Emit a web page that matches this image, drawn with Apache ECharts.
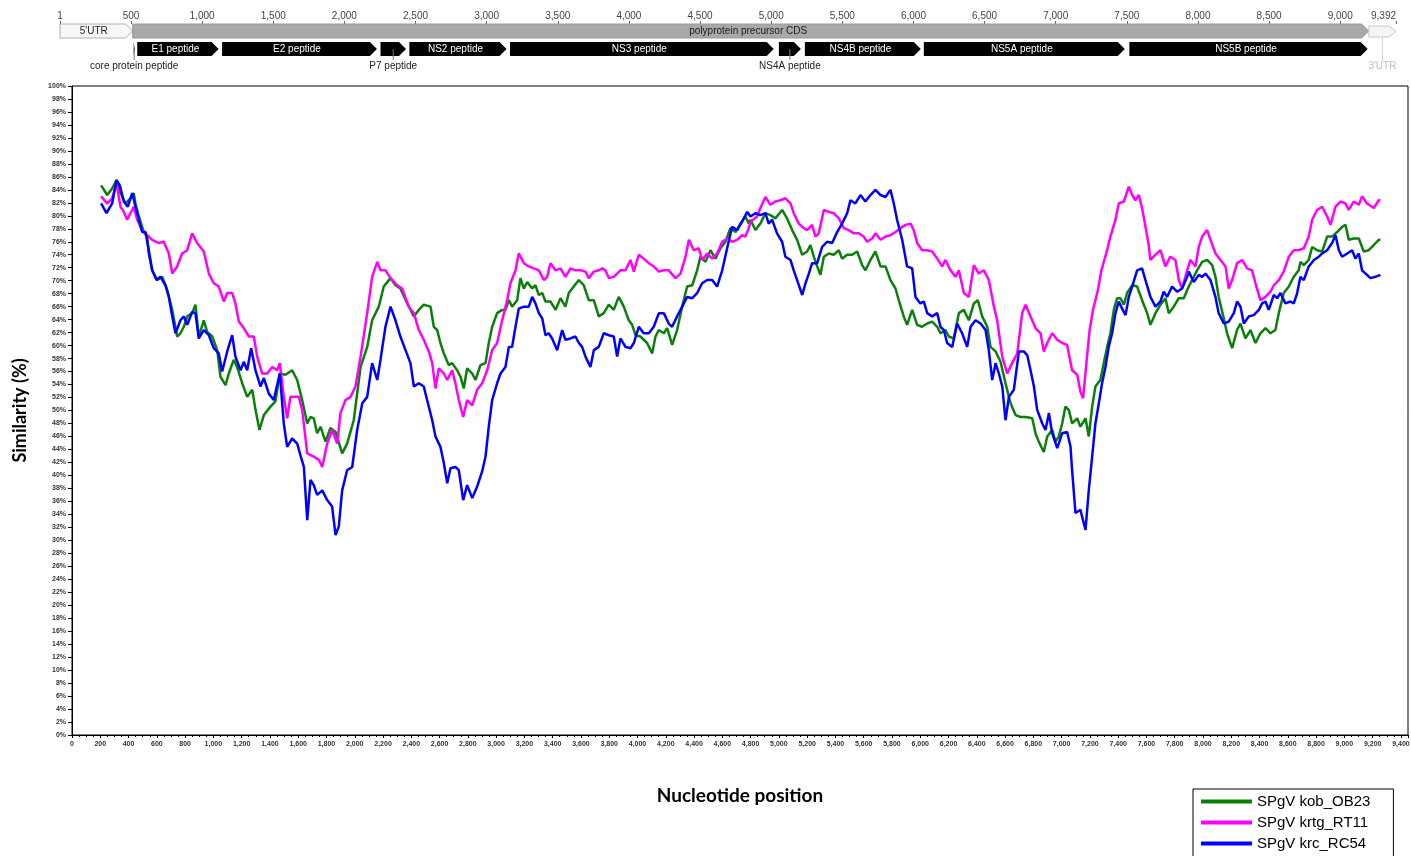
<!DOCTYPE html>
<html>
<head>
<meta charset="utf-8">
<title>SPgV similarity plot</title>
<script src="https://cdn.jsdelivr.net/npm/echarts@6/dist/echarts.min.js"></script>
<style>
  html, body { margin: 0; padding: 0; background: #ffffff; }
  #chart { width: 1411px; height: 856px; }
</style>
</head>
<body>
<div id="chart"></div>
<script>
// ---- Genome map (SPgV polyprotein annotation) ----
const mapTicks = [1, 500, 1000, 1500, 2000, 2500, 3000, 3500, 4000, 4500, 5000, 5500, 6000, 6500, 7000, 7500, 8000, 8500, 9000, 9392];
const featNames = ["5'UTR", 'polyprotein precursor CDS', 'core protein peptide', 'E1 peptide', 'E2 peptide', 'P7 peptide',
  'NS2 peptide', 'NS3 peptide', 'NS4A peptide', 'NS4B peptide', 'NS5A peptide', 'NS5B peptide', "3'UTR"];
const featStart = [1, 512, 512, 537, 1133, 2247, 2450, 3157, 5047, 5230, 6066, 7511, 9201];
const featEnd   = [511, 9200, 533, 1123, 2236, 2440, 3147, 5025, 5216, 6059, 7493, 9200, 9392];
const featKind  = ['utr5', 'cds', 'pep', 'pep', 'pep', 'pep', 'pep', 'pep', 'pep', 'pep', 'pep', 'pep', 'utr3'];

// ---- Similarity traces ----
const seriesNames = ['SPgV kob_OB23', 'SPgV krtg_RT11', 'SPgV krc_RC54'];

const kobPos = [206,249,284,315,343,378,414,437,449,473,508,532,543,567,603,638,673,709,744,767,791,815,850,873,897,932,956,992,1027,1050,1086,1109,1144,1168,1204,1239,1275,1298,1326,1357,1404,1439,1470,1510,1557,1593,1628,1664,1687,1710,1734,1758,1793,1828,1864,1911,1946,1993,2041,2088,2123,2170,2205,2253,2288,2323,2371,2418,2453,2488,2536,2559,2583,2606,2630,2665,2689,2724,2748,2771,2795,2831,2854,2889,2925,2948,2972,3007,3043,3066,3090,3113,3149,3172,3196,3220,3255,3278,3302,3326,3349,3384,3420,3455,3490,3514,3549,3585,3620,3655,3691,3726,3761,3797,3832,3867,3903,3938,3962,3986,4021,4044,4068,4104,4127,4151,4186,4210,4245,4280,4316,4351,4387,4422,4445,4481,4516,4551,4587,4622,4657,4693,4728,4763,4787,4799,4834,4869,4905,4940,4975,5023,5058,5094,5129,5165,5200,5223,5247,5271,5294,5318,5353,5388,5424,5447,5483,5518,5554,5589,5612,5648,5683,5719,5754,5789,5825,5848,5883,5907,5943,5978,6013,6049,6084,6120,6143,6178,6202,6237,6273,6308,6344,6379,6407,6438,6474,6497,6533,6568,6603,6639,6674,6709,6745,6792,6815,6838,6874,6898,6933,6957,6980,7004,7027,7051,7074,7110,7133,7145,7169,7192,7216,7239,7274,7298,7322,7345,7369,7392,7416,7440,7463,7499,7534,7569,7605,7628,7664,7699,7734,7758,7793,7829,7864,7899,7923,7958,7994,8029,8065,8088,8111,8147,8170,8206,8241,8265,8300,8336,8371,8406,8442,8477,8512,8536,8571,8607,8642,8677,8689,8713,8748,8772,8807,8843,8878,8913,8949,8984,9008,9031,9066,9102,9137,9172,9208,9243,9255];
const kobSim = [84.7,83.2,84.2,85.5,83.5,81.9,82.7,83.5,81.9,79.9,77.5,76.8,74.2,71.6,70.1,70.6,68.6,65.5,61.4,61.9,62.9,64.5,65.0,66.3,61.4,63.9,62.1,61.4,59.3,55.2,53.9,55.7,57.8,56.7,54.2,52.1,53.2,50.1,47.0,49.3,50.6,51.4,55.7,55.5,56.2,54.7,51.6,48.0,49.0,48.8,46.5,47.5,45.2,47.3,46.7,43.4,44.9,48.5,56.7,59.8,63.9,66.0,69.1,70.4,69.3,68.8,66.5,64.5,65.5,66.3,66.0,62.9,62.4,60.4,58.8,57.0,57.3,56.2,55.2,53.4,56.5,55.7,54.7,57.0,57.3,60.4,62.9,65.0,65.5,65.5,67.0,66.0,67.0,70.4,68.8,69.8,68.8,69.3,67.8,68.1,66.8,66.8,65.5,67.3,66.0,68.1,69.1,70.1,69.3,67.0,67.0,64.5,65.0,66.3,65.5,67.5,66.0,63.9,63.2,61.6,61.4,60.9,60.4,58.8,61.4,62.4,61.9,62.7,60.1,62.4,66.0,69.1,69.3,71.6,73.7,72.9,74.7,73.4,75.0,76.0,78.1,77.5,78.8,79.9,78.8,79.4,77.8,78.8,80.4,80.1,79.6,80.9,79.6,77.8,76.3,74.0,74.5,75.5,73.7,72.2,70.9,73.7,74.2,74.0,74.7,73.4,74.0,74.0,74.5,72.4,71.6,73.2,74.5,72.2,72.2,70.1,68.8,67.0,64.5,63.2,65.5,63.2,62.9,63.4,63.7,62.9,61.9,62.4,61.4,61.1,65.0,65.5,63.9,66.5,67.0,64.5,62.9,59.8,59.1,57.5,54.2,51.1,49.3,49.0,49.0,48.8,46.5,45.2,43.6,46.0,47.0,45.2,46.0,48.0,50.6,50.1,48.0,48.8,47.5,47.5,48.8,46.0,50.6,53.7,54.7,57.3,59.8,61.9,65.5,67.3,67.3,66.3,68.1,69.3,69.1,67.0,65.0,63.2,65.0,66.3,67.3,65.0,66.0,67.3,67.3,69.1,70.1,71.6,72.9,73.2,72.4,70.6,67.5,64.2,61.9,59.6,62.4,63.4,61.1,62.4,60.4,61.9,62.7,61.9,62.4,65.0,68.1,69.1,70.6,71.6,72.9,72.4,73.2,75.2,74.7,74.5,76.8,76.8,77.5,78.3,78.6,76.3,76.5,76.5,74.5,74.7,75.5,76.3,76.3];

const krtgPos = [206,249,284,315,343,367,390,414,437,461,496,532,567,614,649,685,709,744,779,815,850,885,932,968,1003,1038,1074,1098,1133,1156,1180,1215,1251,1286,1310,1345,1381,1416,1451,1470,1498,1522,1545,1604,1628,1664,1710,1746,1770,1805,1840,1876,1899,1934,1970,2005,2041,2088,2123,2159,2182,2217,2253,2300,2335,2382,2418,2453,2488,2524,2548,2571,2595,2630,2654,2689,2712,2736,2767,2795,2831,2866,2901,2937,2972,3007,3043,3078,3101,3137,3160,3196,3231,3266,3302,3337,3361,3384,3420,3455,3490,3526,3561,3597,3632,3655,3691,3726,3750,3773,3797,3832,3879,3915,3950,3974,4009,4044,4080,4115,4151,4186,4221,4269,4304,4340,4363,4398,4433,4457,4493,4528,4563,4599,4634,4669,4705,4740,4763,4787,4799,4846,4869,4905,4940,4975,5011,5046,5082,5105,5141,5176,5200,5235,5259,5282,5318,5353,5388,5424,5459,5494,5530,5565,5600,5624,5660,5683,5719,5754,5789,5825,5860,5896,5931,5954,5978,6013,6049,6084,6120,6155,6178,6214,6249,6273,6308,6344,6379,6414,6450,6485,6521,6544,6580,6615,6650,6686,6721,6745,6780,6815,6851,6874,6898,6933,6969,7004,7039,7074,7110,7133,7152,7175,7198,7222,7257,7281,7322,7345,7381,7404,7440,7475,7499,7522,7546,7569,7593,7616,7628,7664,7699,7734,7769,7805,7829,7852,7888,7911,7947,7970,7994,8029,8053,8088,8124,8159,8182,8206,8241,8277,8312,8347,8371,8406,8442,8477,8501,8536,8571,8607,8642,8677,8713,8748,8772,8807,8843,8878,8902,8937,8973,9008,9031,9066,9102,9125,9160,9208,9243,9255];
const krtgSim = [83.0,81.9,82.7,85.0,81.4,80.6,79.4,80.4,81.4,79.4,77.8,77.0,76.3,75.8,76.0,74.2,71.1,72.2,74.2,74.7,77.3,75.8,74.5,71.1,69.6,69.1,66.8,68.1,68.1,66.5,63.7,62.7,61.4,61.4,58.3,55.7,55.7,56.7,56.2,57.3,52.1,48.8,52.1,52.1,50.1,43.4,42.9,42.4,41.3,44.9,47.0,44.9,49.6,51.6,52.1,53.7,58.3,65.0,70.6,72.9,71.6,71.6,70.4,69.3,68.8,66.0,65.0,62.4,60.9,59.1,57.3,53.4,56.5,55.7,54.7,56.2,54.2,51.6,49.0,51.6,50.8,53.2,54.2,56.2,59.3,60.4,63.9,67.0,69.6,71.6,74.2,72.7,72.2,71.9,71.6,70.1,70.6,72.7,71.6,71.9,70.6,71.9,71.6,71.6,71.4,70.4,71.4,71.6,71.9,71.6,70.4,70.6,71.6,71.6,73.2,71.4,74.0,73.4,72.7,72.2,71.4,71.6,71.6,70.4,71.1,73.7,76.3,74.7,75.0,73.2,74.2,73.4,74.2,76.0,76.5,76.0,76.3,77.0,76.8,78.1,79.1,79.9,81.2,82.9,81.7,82.2,82.4,82.7,81.9,80.4,78.8,78.1,77.8,78.6,76.8,77.3,80.9,80.6,80.4,79.6,78.1,77.8,77.3,77.3,76.8,76.0,76.5,77.3,76.3,76.8,77.0,77.5,78.1,78.6,78.8,77.8,75.8,74.7,74.7,74.5,73.4,72.2,73.2,71.6,70.6,71.6,68.1,67.5,72.4,71.1,71.6,70.1,66.0,63.9,58.3,55.7,57.3,58.8,65.0,66.3,64.5,62.7,61.9,59.1,60.4,61.9,60.9,60.4,60.1,56.2,55.5,52.9,51.9,57.3,62.4,65.5,68.6,71.6,74.7,76.8,79.4,81.9,82.2,84.5,83.2,82.4,83.2,81.2,78.3,75.5,73.2,74.0,74.7,72.2,73.7,73.2,70.1,68.8,71.6,73.2,72.2,75.2,76.8,77.8,76.3,74.2,73.2,72.2,68.8,70.1,72.7,73.2,71.9,71.6,69.6,67.0,67.5,68.3,69.3,70.1,71.4,73.7,74.7,74.7,75.0,76.8,79.4,80.9,81.4,79.9,78.6,81.4,82.2,81.9,80.9,82.2,81.7,83.0,81.9,81.2,82.4,82.4];

const krcPos = [206,244,284,315,338,367,395,426,449,473,496,520,543,567,598,626,661,685,709,732,767,791,815,850,873,897,932,968,1003,1038,1062,1098,1133,1156,1192,1215,1239,1267,1298,1333,1357,1392,1427,1470,1498,1522,1557,1593,1616,1640,1664,1687,1710,1734,1770,1805,1840,1864,1887,1911,1946,1982,2017,2053,2088,2123,2159,2182,2217,2253,2288,2323,2359,2394,2418,2453,2488,2512,2548,2571,2606,2630,2654,2677,2712,2736,2767,2795,2831,2866,2901,2925,2948,2972,3007,3031,3066,3090,3113,3137,3160,3196,3231,3255,3278,3302,3326,3349,3372,3396,3432,3467,3490,3526,3561,3585,3608,3632,3667,3691,3726,3761,3797,3832,3856,3879,3915,3950,3974,4009,4044,4080,4115,4151,4186,4221,4245,4280,4316,4351,4387,4422,4457,4493,4528,4563,4599,4634,4669,4705,4740,4776,4799,4834,4869,4905,4928,4952,4987,5023,5046,5082,5105,5129,5165,5188,5212,5235,5271,5306,5341,5377,5412,5447,5483,5506,5541,5577,5612,5648,5683,5719,5754,5789,5813,5836,5872,5907,5943,5966,6001,6025,6049,6084,6120,6143,6167,6190,6226,6261,6296,6332,6356,6391,6427,6462,6485,6509,6533,6556,6580,6603,6627,6662,6698,6733,6757,6780,6804,6827,6863,6886,6910,6933,6969,7004,7039,7063,7074,7098,7133,7145,7169,7192,7216,7239,7263,7286,7310,7333,7357,7381,7404,7428,7452,7475,7499,7534,7569,7593,7628,7664,7699,7722,7746,7781,7817,7852,7888,7899,7935,7970,7994,8017,8053,8088,8111,8147,8182,8218,8241,8265,8289,8324,8359,8395,8418,8442,8465,8501,8524,8548,8583,8618,8642,8666,8689,8713,8748,8784,8819,8843,8878,8913,8937,8961,8984,9020,9055,9078,9102,9125,9160,9184,9219,9255];
const krcSim = [81.9,80.4,81.9,85.5,84.7,82.2,81.4,83.5,81.4,79.4,77.5,77.5,74.7,71.6,70.1,70.6,69.3,67.5,64.5,61.9,63.9,64.5,63.2,65.2,65.0,61.1,62.4,61.6,59.6,58.8,56.0,59.1,61.6,58.3,56.2,57.5,56.2,59.6,56.2,53.7,55.0,52.6,51.6,55.7,48.0,44.4,45.7,44.9,43.1,41.3,33.1,39.3,38.5,37.0,37.7,36.2,35.2,30.8,32.1,37.7,40.8,41.3,47.0,51.1,52.1,57.3,54.7,57.8,62.9,66.0,63.9,61.4,59.3,57.3,53.7,54.2,53.7,51.6,48.5,46.0,44.4,41.9,38.8,41.1,41.3,40.8,36.2,38.5,36.5,38.3,40.6,42.9,47.5,51.6,54.2,55.7,56.7,59.8,59.8,62.9,65.7,66.0,66.0,67.5,66.5,65.0,64.2,61.6,61.9,61.1,59.3,62.4,60.9,61.1,61.4,60.4,59.8,58.3,56.7,59.3,59.8,61.9,61.6,61.4,58.3,61.1,59.8,59.6,60.4,62.9,61.9,61.9,62.9,65.0,65.0,63.4,62.9,64.5,66.0,67.5,67.3,68.1,69.6,70.1,70.1,69.1,71.6,75.0,78.3,77.8,79.1,80.6,79.9,80.4,80.1,80.4,78.8,79.4,77.3,76.0,73.7,73.2,71.6,70.1,67.8,69.6,71.1,72.7,72.7,75.2,76.0,75.8,77.5,78.8,80.4,82.4,81.9,83.2,82.2,83.2,84.0,83.2,82.9,84.0,81.9,79.4,76.3,72.2,71.9,67.5,66.5,66.8,65.0,64.5,65.0,62.9,62.4,60.4,59.8,63.4,61.9,59.8,62.9,63.9,63.4,62.4,59.3,54.7,57.3,55.7,53.7,48.5,52.1,53.2,59.1,59.1,58.5,56.2,53.7,50.1,48.0,47.0,49.6,46.5,44.2,46.5,46.7,44.4,40.8,34.2,34.7,33.6,31.6,37.7,42.9,48.0,51.1,54.2,56.7,59.8,61.9,65.0,66.8,65.7,64.7,67.5,69.1,71.6,71.9,70.1,67.5,66.0,66.8,68.3,67.5,69.1,68.3,68.8,70.6,71.4,69.8,70.9,70.6,71.1,70.1,67.5,65.0,63.4,63.7,65.0,66.8,66.0,63.4,64.5,64.7,65.5,66.5,66.8,65.5,67.8,67.3,68.1,66.5,66.8,66.5,68.1,70.6,70.1,72.2,73.2,73.7,74.2,74.7,75.8,77.0,74.7,73.7,74.2,74.7,73.4,74.2,71.6,70.9,70.4,70.6,70.9];

// ---- Drawing ----
const chart = echarts.init(document.getElementById('chart'), null, { renderer: 'canvas' });

const pair = (xs, ys) => xs.map((x, i) => [x, ys[i]]);
const fmtThousands = v => Math.round(v).toLocaleString('en-US');

const featureStyle = {
  utr5: { fill: '#f7f7f7', stroke: '#b0b0b0', text: '#222222' },
  cds:  { fill: '#a8a8a8', stroke: '#9a9a9a', text: '#1a1a1a' },
  pep:  { fill: '#000000', stroke: '#000000', text: '#ffffff' },
  utr3: { fill: '#f4f4f4', stroke: '#c8c8c8', text: '#bdbdbd' }
};

// Track rows of the annotation map, in map-axis units (pixels below the map top)
const trackBand = { utr5: [0, 14], cds: [0, 14], pep: [18, 32], utr3: [2, 13] };

function arrowPoints(x1, x2, yt, yb) {
  const head = Math.min(7, Math.max(0, x2 - x1));
  const ym = (yt + yb) / 2;
  return [[x1, yt], [x2 - head, yt], [x2, ym], [x2 - head, yb], [x1, yb]];
}

function renderFeature(params, api) {
  const i = api.value(2);
  const kind = featKind[i];
  const st = featureStyle[kind];
  const band = trackBand[kind];
  const p1 = api.coord([api.value(0), band[0]]);
  const p2 = api.coord([api.value(1), band[1]]);
  const gap = kind === 'pep' ? 1 : 0;
  const x1 = p1[0] + gap, x2 = p2[0] - gap;
  const yt = p1[1], yb = p2[1];
  const children = [{
    type: 'polygon',
    shape: { points: arrowPoints(x1, x2, yt, yb) },
    style: { fill: st.fill, stroke: st.stroke, lineWidth: kind === 'pep' ? 0 : 1 }
  }];
  const width = x2 - x1;
  const labelY = api.coord([0, 42])[1];
  if (kind === 'utr3' || width < 40) {
    const cx = (x1 + x2) / 2;
    const lineTop = kind === 'pep' ? (yt + yb) / 2 : yb;
    children.push({
      type: 'line',
      shape: { x1: cx, y1: lineTop, x2: cx, y2: labelY - 6 },
      style: { stroke: kind === 'pep' ? '#777777' : '#cfcfcf', lineWidth: 1 }
    });
    children.push({
      type: 'text',
      style: {
        text: featNames[i], x: cx, y: labelY,
        align: 'center', verticalAlign: 'middle',
        fill: kind === 'utr3' ? st.text : '#222222',
        fontSize: 10, fontFamily: 'Liberation Sans'
      }
    });
  } else {
    children.push({
      type: 'text',
      style: {
        text: featNames[i], x: (x1 + x2 - 5) / 2, y: (yt + yb) / 2,
        align: 'center', verticalAlign: 'middle',
        fill: st.text, fontSize: 10, fontFamily: 'Liberation Sans'
      }
    });
  }
  return { type: 'group', children };
}

const lineColors = ['#0a800a', '#ff00ff', '#0000ff'];
const traces = [pair(kobPos, kobSim), pair(krtgPos, krtgSim), pair(krcPos, krcSim)];

const option = {
  animation: false,
  backgroundColor: '#ffffff',
  grid: [
    { left: 72, right: 3, top: 86, bottom: 121, outerBoundsMode: 'none', containLabel: false,
      show: true, borderColor: '#000000', borderWidth: 1, backgroundColor: '#ffffff' },
    { left: 60, right: 15, top: 24, height: 50, outerBoundsMode: 'none', containLabel: false }
  ],
  xAxis: [
    {
      gridIndex: 0, type: 'value', min: 0, max: 9450, interval: 200,
      name: 'Nucleotide position', nameLocation: 'middle', nameGap: 51,
      nameTextStyle: { fontFamily: 'Lato', fontWeight: 'bold', fontSize: 19, color: '#000000' },
      axisLine: { show: true, onZero: false, lineStyle: { color: '#000000', width: 1 } },
      axisTick: { show: true, length: 3, lineStyle: { color: '#000000' } },
      minorTick: { show: true, splitNumber: 4, length: 2, lineStyle: { color: '#000000' } },
      splitLine: { show: false },
      axisLabel: {
        margin: 6, fontSize: 7, color: '#333333', fontFamily: 'Liberation Sans', fontWeight: 'bold',
        formatter: v => (v % 200 === 0 ? fmtThousands(v) : '')
      }
    },
    {
      gridIndex: 1, type: 'value', min: 1, max: 9392, position: 'top',
      axisLine: { show: false },
      axisTick: { show: true, length: 3, customValues: mapTicks, lineStyle: { color: '#666666' } },
      splitLine: { show: false },
      axisLabel: {
        customValues: mapTicks, margin: 3, fontSize: 10, color: '#444444', fontFamily: 'Liberation Sans',
        alignMaxLabel: 'right', formatter: v => fmtThousands(v)
      }
    }
  ],
  yAxis: [
    {
      gridIndex: 0, type: 'value', min: 0, max: 100, interval: 2,
      name: 'Similarity (%)', nameLocation: 'middle', nameGap: 43, nameRotate: 90,
      nameTextStyle: { fontFamily: 'Lato', fontWeight: 'bold', fontSize: 18, color: '#000000' },
      axisLine: { show: true, onZero: false, lineStyle: { color: '#000000', width: 1 } },
      axisTick: { show: true, length: 4, lineStyle: { color: '#000000' } },
      splitLine: { show: false },
      axisLabel: {
        margin: 6, fontSize: 7, color: '#333333', fontFamily: 'Liberation Sans', fontWeight: 'bold',
        formatter: v => v + '%'
      }
    },
    { gridIndex: 1, type: 'value', min: 0, max: 50, inverse: true, show: false }
  ],
  legend: {
    data: seriesNames,
    orient: 'vertical',
    left: 1193, top: 789, height: 150, width: 220,
    icon: 'rect', itemWidth: 51, itemHeight: 4, itemGap: 4,
    padding: [4, 23, 10, 8],
    borderColor: '#000000', borderWidth: 1, backgroundColor: '#ffffff',
    textStyle: { fontFamily: 'Liberation Sans', fontSize: 15, color: '#000000', lineHeight: 17 }
  },
  series: [
    ...traces.map((d, k) => ({
      name: seriesNames[k], type: 'line', xAxisIndex: 0, yAxisIndex: 0,
      data: d, showSymbol: false, symbol: 'none',
      lineStyle: { color: lineColors[k], width: 2.5 },
      itemStyle: { color: lineColors[k] },
      z: 3 + k
    })),
    {
      name: 'genome map', type: 'custom', xAxisIndex: 1, yAxisIndex: 1, clip: false,
      data: featStart.map((s, i) => [s, featEnd[i], i]),
      encode: { x: [0, 1] },
      renderItem: renderFeature,
      silent: true
    }
  ]
};

chart.setOption(option);
</script>
</body>
</html>
